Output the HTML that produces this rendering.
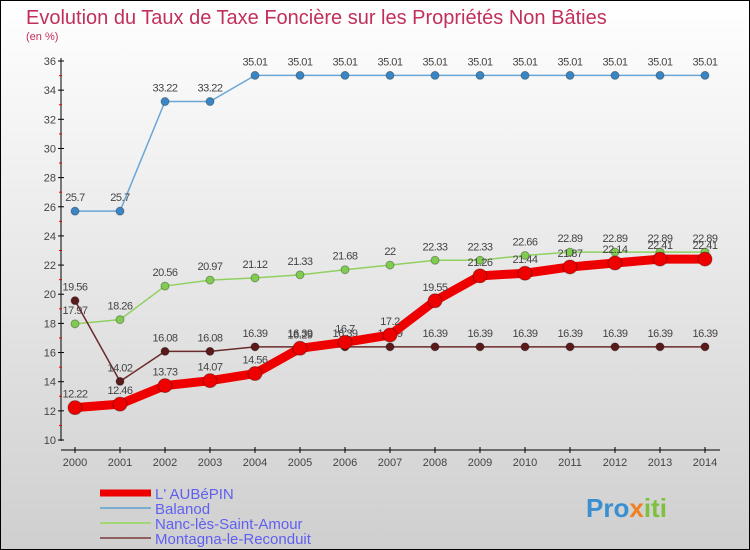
<!DOCTYPE html>
<html><head><meta charset="utf-8"><style>
body{margin:0;width:750px;height:550px;overflow:hidden;font-family:"Liberation Sans",sans-serif}
svg{display:block}
</style></head><body>
<svg width="750" height="550" xmlns="http://www.w3.org/2000/svg">
<defs><linearGradient id="bg" x1="0" y1="0" x2="0" y2="1"><stop offset="0" stop-color="#ffffff"/><stop offset="1" stop-color="#cfcfcf"/></linearGradient></defs>
<rect x="0.5" y="0.5" width="749" height="549" fill="url(#bg)" stroke="#000"/>
<text x="26" y="24" font-size="20" fill="#c0305a">Evolution du Taux de Taxe Foncière sur les Propriétés Non Bâties</text>
<text x="26" y="40" font-size="11" fill="#c0305a">(en %)</text>
<g id="axes"></g>
<g id="series"></g>
<g id="legend"></g>
<text x="586" y="517" font-size="26" font-weight="bold" fill="#3a8fd0">Pro<tspan fill="#f08020">x</tspan><tspan fill="#80c040">iti</tspan></text>
</svg>
<script>
const years=[2000,2001,2002,2003,2004,2005,2006,2007,2008,2009,2010,2011,2012,2013,2014];
const aubepin=[12.22,12.46,13.73,14.07,14.56,16.29,16.7,17.2,19.55,21.26,21.44,21.87,22.14,22.41,22.41];
const balanod=[25.7,25.7,33.22,33.22,35.01,35.01,35.01,35.01,35.01,35.01,35.01,35.01,35.01,35.01,35.01];
const nanc=[17.97,18.26,20.56,20.97,21.12,21.33,21.68,22,22.33,22.33,22.66,22.89,22.89,22.89,22.89];
const montagna=[19.56,14.02,16.08,16.08,16.39,16.39,16.39,16.39,16.39,16.39,16.39,16.39,16.39,16.39,16.39];
const yTicks=[10,12,14,16,18,20,22,24,26,28,30,32,34,36];
const NS="http://www.w3.org/2000/svg";
const xS=i=>75+i*45;
const yS=v=>440-(v-10)*(379/26);
function mk(tag,attrs,parent){const e=document.createElementNS(NS,tag);for(const k in attrs)e.setAttribute(k,attrs[k]);parent.appendChild(e);return e;}
const axes=document.getElementById('axes');
let l=mk('line',{x1:61,y1:58,x2:61,y2:441,stroke:'#000'},axes);


l=mk('line',{x1:61,y1:450,x2:720,y2:450,stroke:'#000'},axes);


yTicks.forEach(v=>{
 const y=yS(v);
 mk('line',{x1:58,y1:y,x2:64,y2:y,stroke:'#000'},axes);
 if(v<36) mk('line',{x1:59,y1:yS(v+1),x2:62,y2:yS(v+1),stroke:'#e00'},axes);
 const t=mk('text',{x:56,y:y+4,'font-size':11,'text-anchor':'end',fill:'#444'},axes);
 t.textContent=v;
 
 
});
years.forEach((yr,i)=>{
 mk('line',{x1:xS(i),y1:447,x2:xS(i),y2:453,stroke:'#000'},axes);
 const t=mk('text',{x:xS(i),y:466,'font-size':11,'text-anchor':'middle',fill:'#444'},axes);
 t.textContent=yr;
 
 
});
const ser=document.getElementById('series');
function draw(data,color,w,r,dot,name){
 const g=mk('g',{},ser);
 
 
 const p=mk('polyline',{points:data.map((v,i)=>xS(i)+','+yS(v)).join(' '),fill:'none',stroke:color,'stroke-width':w,'stroke-linejoin':'round'},g);
 
 
 data.forEach((v,i)=>{
  const c=mk('circle',{cx:xS(i),cy:yS(v),r:r,fill:dot,stroke:'rgba(0,0,0,0.3)'},g);
  
  
  const t=mk('text',{x:xS(i),y:yS(v)-10,'font-size':11,'text-anchor':'middle',fill:'#444','letter-spacing':'-0.5'},g);
  t.textContent=v;
  
  
 });
}
draw(balanod,'#6aa6d6',1.5,4,'#3a86c4','balanod');
draw(nanc,'#90d060',1.5,4,'#80cc50','nanc');
draw(montagna,'#6a2a2a',1.5,4,'#5a1a1a','montagna');
draw(aubepin,'#ee0000',9,7,'#ee0000','aubepin');
const lg=document.getElementById('legend');
const items=[['L\' AUBéPIN','#ee0000',7],['Balanod','#7aaed0',2],['Nanc-lès-Saint-Amour','#a0d878',2],['Montagna-le-Reconduit','#906060',2]];
items.forEach((it,i)=>{
 const y=493+i*15;
 const g=mk('g',{},lg);
 
 
 mk('line',{x1:100,y1:y,x2:151,y2:y,stroke:it[1],'stroke-width':it[2]},g);
 const t=mk('text',{x:155,y:y+6,'font-size':15,fill:'#6060f0'},g);
 t.textContent=it[0];
});
</script>
</body></html>
